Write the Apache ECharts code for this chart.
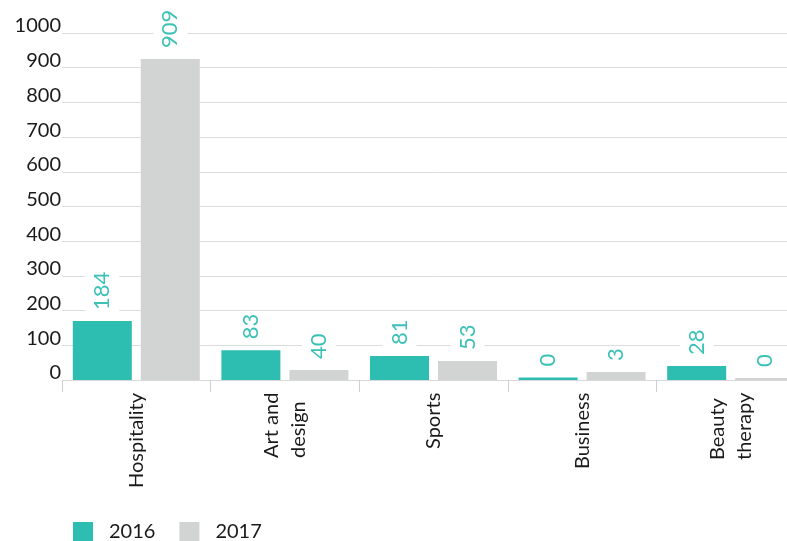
<!DOCTYPE html>
<html>
<head>
<meta charset="utf-8">
<script src="https://cdn.jsdelivr.net/npm/echarts@6/dist/echarts.min.js"></script>
<style>
html,body{margin:0;padding:0;background:#fff;overflow:hidden;width:787px;height:541px;}
#chart{width:805px;height:541px;}
</style>
</head>
<body>
<div id="chart"></div>
<script>
// Data
var categories = ['Hospitality', 'Art and\ndesign', 'Sports', 'Business', 'Beauty\ntherapy'];
var seriesNames = ['2016', '2017'];
// bar heights
var values2016 = [170, 86, 69, 7, 40];
var values2017 = [925, 29, 55, 23, 6];
// value labels printed on the chart
var labels2016 = ['184', '83', '81', '0', '28'];
var labels2017 = ['909', '40', '53', '3', '0'];
var yTicks = [0, 100, 200, 300, 400, 500, 600, 700, 800, 900, 1000];

var FONT = 'Lato';
var TEAL = '#2ebdb1';
var GRAY = '#d2d3d3';
var LABEL_TEAL = '#3cc1b6';

// measure lines to left-align (bottom-align on screen) multi-line category labels
var cv = document.createElement('canvas').getContext('2d');
cv.font = '20px ' + FONT;
var rich = {};
categories.forEach(function (c, i) {
  var lines = c.split('\n');
  var w = 0;
  lines.forEach(function (l) { w = Math.max(w, cv.measureText(l).width); });
  rich['c' + i] = { width: Math.ceil(w), align: 'left', fontSize: 20, fontFamily: FONT, color: '#1a1a1a', lineHeight: 27 };
});

var chart = echarts.init(document.getElementById('chart'), null, { renderer: 'canvas' });

function makeSeries(name, vals, labs, color) {
  return {
    name: name,
    type: 'bar',
    data: vals,
    barWidth: 59,
    barGap: '15.25%',
    itemStyle: { color: color },
    label: {
      show: true,
      position: 'top',
      rotate: 90,
      align: 'left',
      verticalAlign: 'middle',
      distance: 9,
      color: LABEL_TEAL,
      fontFamily: FONT,
      fontSize: 22,
      backgroundColor: '#ffffff',
      padding: [6, 2, 6, 2],
      formatter: function (p) { return labs[p.dataIndex]; }
    },
    animation: false
  };
}

chart.setOption({
  animation: false,
  backgroundColor: '#ffffff',
  grid: { left: 62, right: 0, top: 33, bottom: 161, containLabel: false },
  legend: {
    data: seriesNames,
    left: 73,
    top: 522,
    padding: 0,
    itemWidth: 20,
    itemHeight: 20,
    itemGap: 24,
    icon: 'rect',
    textStyle: { fontFamily: FONT, fontSize: 20, color: '#1a1a1a', padding: [0, 0, 0, 11] }
  },
  xAxis: {
    type: 'category',
    data: categories,
    axisLine: { show: true, lineStyle: { color: '#d9d9d9', width: 1 } },
    axisTick: { show: true, length: 12, lineStyle: { color: '#cfcfcf' } },
    axisLabel: {
      rotate: 90,
      margin: 12,
      interval: 0,
      fontFamily: FONT,
      fontSize: 20,
      color: '#1a1a1a',
      formatter: function (v, i) {
        return v.split('\n').map(function (l) { return '{c' + i + '|' + l + '}'; }).join('\n');
      },
      rich: rich
    }
  },
  yAxis: {
    type: 'value',
    min: yTicks[0],
    max: yTicks[yTicks.length - 1],
    interval: yTicks[1] - yTicks[0],
    axisLine: { show: false },
    axisTick: { show: false },
    splitLine: { lineStyle: { color: '#dcdcdc', width: 1 } },
    axisLabel: {
      margin: 1,
      fontFamily: FONT,
      fontSize: 20,
      color: '#1a1a1a',
      verticalAlign: 'bottom',
      lineHeight: 14,
      formatter: function (v) { return String(v); }
    }
  },
  series: [
    makeSeries(seriesNames[0], values2016, labels2016, TEAL),
    makeSeries(seriesNames[1], values2017, labels2017, GRAY)
  ]
});
</script>
</body>
</html>
